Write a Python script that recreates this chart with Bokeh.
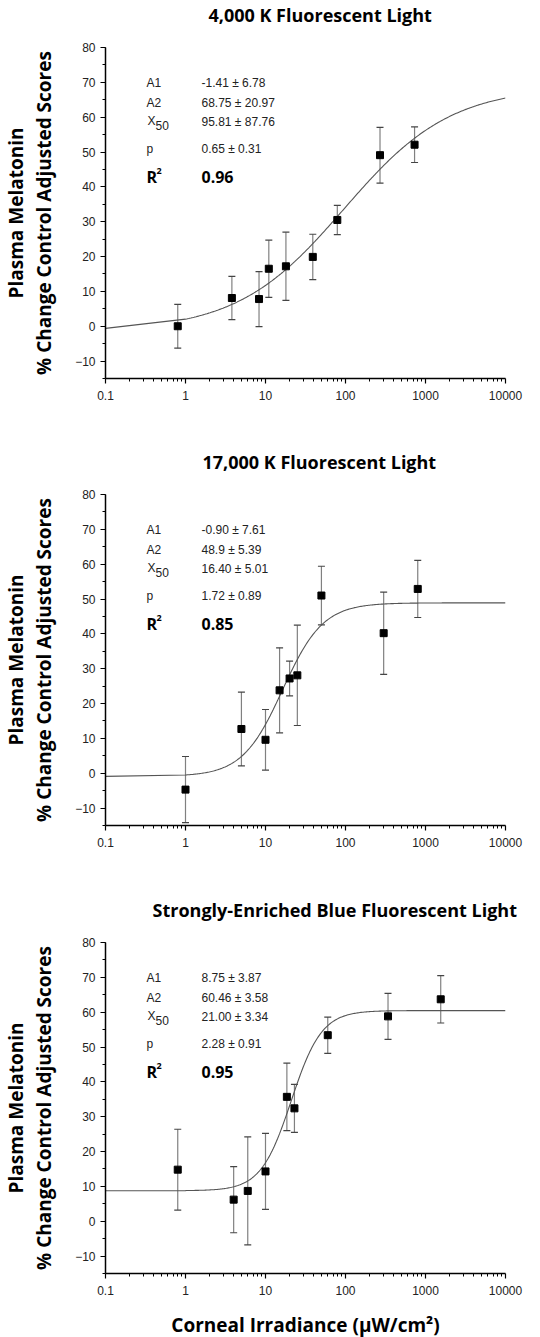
import numpy as np
from bokeh.plotting import figure
from bokeh.layouts import column
from bokeh.models import (ColumnDataSource, Whisker, TeeHead, Title, SingleIntervalTicker,
                          FixedTicker, Range1d)
from bokeh.core.properties import value
from bokeh.embed import file_html
from bokeh.resources import INLINE

# ---------------- data ----------------
panel_titles = ["4,000 K Fluorescent Light",
                "17,000 K Fluorescent Light",
                "Strongly-Enriched Blue Fluorescent Light"]

irr_4000 = [0.8, 3.8, 8.3, 11, 18, 39, 79, 270, 730]
mel_4000 = [0.0, 8.1, 7.8, 16.5, 17.2, 19.9, 30.5, 49.1, 52.1]
err_4000 = [6.3, 6.2, 7.9, 8.2, 9.8, 6.5, 4.2, 8.0, 5.1]

irr_17000 = [1, 5, 10, 15, 20, 25, 50, 300, 800]
mel_17000 = [-4.7, 12.7, 9.6, 23.8, 27.2, 28.1, 51.0, 40.2, 52.9]
err_17000 = [9.5, 10.6, 8.7, 12.2, 5.0, 14.4, 8.4, 11.8, 8.2]

irr_blue = [0.8, 4, 6, 10, 18.5, 23, 60, 340, 1550]
mel_blue = [14.8, 6.2, 8.7, 14.3, 35.7, 32.4, 53.4, 58.8, 63.7]
err_blue = [11.6, 9.5, 15.5, 10.9, 9.7, 6.9, 5.2, 6.6, 6.8]

# logistic fit parameters shown on the chart
fit_A1 = [-1.41, -0.90, 8.75]
fit_A2 = [68.75, 48.9, 60.46]
fit_x50 = [95.81, 16.40, 21.00]
fit_p = [0.65, 1.72, 2.28]

fit_values = [["-1.41 \u00b1 6.78", "68.75 \u00b1 20.97", "95.81 \u00b1 87.76", "0.65 \u00b1 0.31"],
              ["-0.90 \u00b1 7.61", "48.9 \u00b1 5.39", "16.40 \u00b1 5.01", "1.72 \u00b1 0.89"],
              ["8.75 \u00b1 3.87", "60.46 \u00b1 3.58", "21.00 \u00b1 3.34", "2.28 \u00b1 0.91"]]
r2_values = ["0.96", "0.85", "0.95"]

x_ticks = [0.1, 1, 10, 100, 1000, 10000]
x_tick_labels = ["0.1", "1", "10", "100", "1000", "10000"]

y_label_1 = "Plasma Melatonin"
y_label_2 = "% Change Control Adjusted Scores"
x_label = "Corneal Irradiance (\u03bcW/cm\u00b2)"

# ---------------- layout / style ----------------
FW, FH = 400, 331
YMIN, YMAX = -15, 80
border_left = [98, 99, 102]
border_top = [47, 47, 47]
border_bottom = [69, 70, 55]
title_offsets = [103, 97, 47]

SANS = "Liberation Sans"
BOLD = "Open Sans"


def ypos(off):
    return YMAX - off * (YMAX - YMIN) / FH


def xpos(off):
    return 10 ** (-1 + off / 80.0)


def make_panel(i, irr, mel, err, last):
    p = figure(x_axis_type="log", x_range=Range1d(0.1, 10000), y_range=Range1d(YMIN, YMAX),
               frame_width=FW, frame_height=FH,
               min_border_left=border_left[i], min_border_right=524 - FW - border_left[i],
               min_border_top=border_top[i], min_border_bottom=border_bottom[i],
               toolbar_location=None, output_backend="svg")
    p.outline_line_color = None
    p.grid.visible = False
    p.background_fill_color = "white"
    p.border_fill_color = "white"

    # spacer (innermost) then the title above it
    p.add_layout(Title(text=" ", text_font_size="1px", standoff=18), "above")
    p.add_layout(Title(text=panel_titles[i], text_font=BOLD, text_font_size="18px",
                       text_font_style="bold", text_color="black", align="left",
                       offset=title_offsets[i], standoff=0), "above")

    # axes
    for ax in (p.xaxis[0], p.yaxis[0]):
        ax.axis_line_color = "black"
        ax.axis_line_width = 1.5
        ax.major_tick_line_color = "black"
        ax.minor_tick_line_color = "black"
        ax.major_tick_line_width = 1.2
        ax.major_tick_in = 0
        ax.major_tick_out = 5
        ax.minor_tick_in = 0
        ax.minor_tick_out = 3
        ax.major_label_text_font = SANS
        ax.major_label_text_font_size = "12px"
        ax.major_label_text_color = "#222222"
    p.yaxis.major_label_standoff = 5
    p.xaxis.major_label_standoff = 7

    minor = [m * 10.0 ** k for k in range(-1, 4) for m in range(2, 10)]
    p.xaxis.ticker = FixedTicker(ticks=x_ticks, minor_ticks=minor)
    p.xaxis.major_label_overrides = dict(zip(x_ticks, x_tick_labels))
    p.yaxis.ticker = SingleIntervalTicker(interval=10, num_minor_ticks=2)

    p.yaxis.axis_label = y_label_2
    p.yaxis.axis_label_text_font = BOLD
    p.yaxis.axis_label_text_font_size = "19px"
    p.yaxis.axis_label_text_font_style = "bold"
    p.yaxis.axis_label_text_color = "black"
    p.yaxis.axis_label_standoff = 15
    p.add_layout(Title(text=y_label_1, text_font=BOLD, text_font_size="19px",
                       text_font_style="bold", text_color="black", align="center",
                       standoff=0), "left")

    if last:
        p.xaxis.axis_label = x_label
        p.xaxis.axis_label_text_font = BOLD
        p.xaxis.axis_label_text_font_size = "19px"
        p.xaxis.axis_label_text_font_style = "bold"
        p.xaxis.axis_label_text_color = "black"
        p.xaxis.axis_label_standoff = 14

    # fit curve from the displayed fit parameters
    xs = np.array([0.1] + list(np.logspace(0, 4, 300)))
    ys = fit_A2[i] + (fit_A1[i] - fit_A2[i]) / (1 + (xs / fit_x50[i]) ** fit_p[i])
    p.line(xs, ys, line_color="#555555", line_width=1.1)

    src = ColumnDataSource(dict(x=irr, y=mel,
                                upper=[m + e for m, e in zip(mel, err)],
                                lower=[m - e for m, e in zip(mel, err)]))
    p.add_layout(Whisker(source=src, base="x", upper="upper", lower="lower", dimension="height",
                         line_color="#808080", line_width=1.2,
                         upper_head=TeeHead(size=7, line_color="#444444", line_width=1.2),
                         lower_head=TeeHead(size=7, line_color="#444444", line_width=1.2)))
    p.scatter("x", "y", source=src, marker="square", size=7, fill_color="black",
              line_color="black")

    # parameter annotations
    names = ["A1", "A2", None, "p"]
    rows = [35, 55, 74, 101]
    for name, off, val in zip(names, rows, fit_values[i]):
        if name is not None:
            p.text([xpos(41)], [ypos(off)], text=[name], text_font=value(SANS),
                   text_font_size="12px", text_color="#222222", text_baseline="middle")
        p.text([xpos(96)], [ypos(off)], text=[val], text_font=value(SANS),
               text_font_size="12px", text_color="#222222", text_baseline="middle")
    p.text([xpos(42)], [ypos(73)], text=["X"], text_font=value(SANS),
           text_font_size="12px", text_color="#222222", text_baseline="middle")
    p.text([xpos(50)], [ypos(78)], text=["50"], text_font=value(SANS),
           text_font_size="12px", text_color="#222222", text_baseline="middle")
    p.text([xpos(41)], [ypos(129)], text=["R"], text_font=value(BOLD),
           text_font_size="16px", text_font_style="bold", text_color="black",
           text_baseline="middle")
    p.text([xpos(51)], [ypos(123)], text=["2"], text_font=value(BOLD),
           text_font_size="9px", text_font_style="bold", text_color="black",
           text_baseline="middle")
    p.text([xpos(96)], [ypos(129)], text=[r2_values[i]], text_font=value(BOLD),
           text_font_size="16px", text_font_style="bold", text_color="black",
           text_baseline="middle")
    return p


p1 = make_panel(0, irr_4000, mel_4000, err_4000, False)
p2 = make_panel(1, irr_17000, mel_17000, err_17000, False)
p3 = make_panel(2, irr_blue, mel_blue, err_blue, True)

layout = column(p1, p2, p3, spacing=0)
open("out.html", "w").write(file_html(layout, INLINE))
